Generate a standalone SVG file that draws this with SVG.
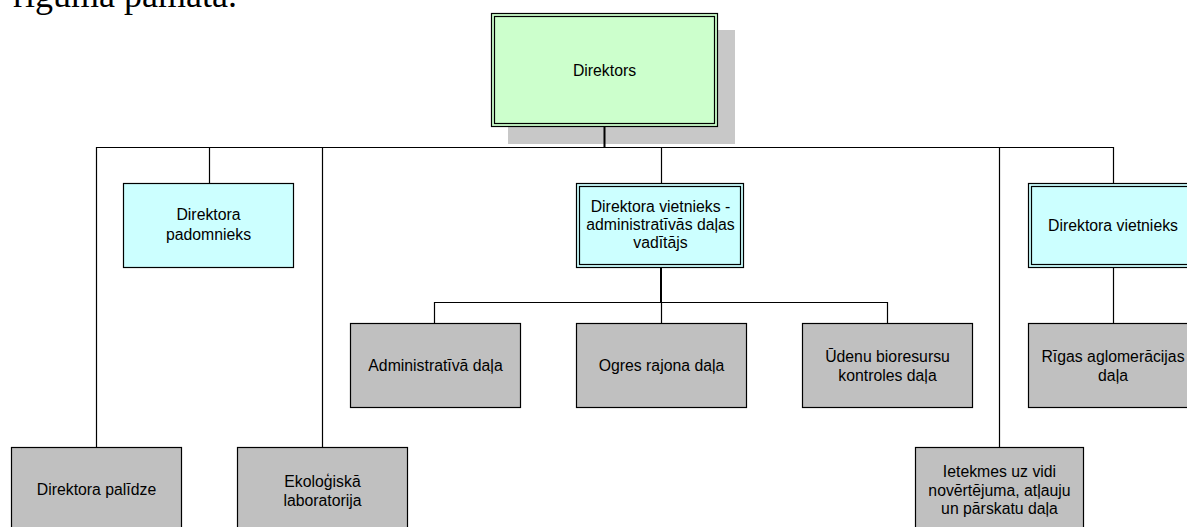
<svg xmlns="http://www.w3.org/2000/svg" width="1187" height="527" viewBox="0 0 1187 527">
<style>
.t{font-family:"Liberation Sans",Arial,sans-serif;font-size:15.8px;fill:#000;text-anchor:middle}
.g{fill:#c0c0c0;stroke:#000;stroke-width:1.2}
.c{fill:#ccffff;stroke:#000;stroke-width:1.2}
.gr{fill:#ccffcc;stroke:#000;stroke-width:1.2}
.in{fill:none;stroke:#000;stroke-width:1.2}
.ln{fill:none;stroke:#000;stroke-width:1.2}
.lt{fill:none;stroke:#000;stroke-width:2}
</style>
<rect width="1187" height="527" fill="#fff"/>
<text x="237" y="7" font-family="'Liberation Serif','Times New Roman',serif" font-size="36" text-anchor="end" fill="#000">rīguma pamata.</text>
<g id="n-direktors">
<rect x="508" y="30" width="227" height="114" fill="#c8c8c8"/>
<rect class="gr" x="491.5" y="13.5" width="226" height="113"/>
<rect class="in" x="494.5" y="16.5" width="220" height="107"/>
<text class="t" x="604.5" y="76">Direktors</text>
</g>
<g id="n-padomnieks">
<rect class="c" x="123.5" y="183.5" width="170" height="84"/>
<text class="t" x="208.5" y="220">Direktora</text>
<text class="t" x="208.5" y="240">padomnieks</text>
</g>
<g id="n-vietnieks-admin">
<rect class="c" x="576.5" y="183.5" width="167" height="84"/>
<rect class="in" x="579.5" y="186.5" width="161" height="78"/>
<text class="t" x="660.5" y="212">Direktora vietnieks -</text>
<text class="t" x="660.5" y="230">administratīvās daļas</text>
<text class="t" x="660.5" y="248">vadītājs</text>
</g>
<g id="n-vietnieks">
<rect class="c" x="1028.5" y="183.5" width="170" height="84"/>
<rect class="in" x="1031.5" y="186.5" width="164" height="78"/>
<text class="t" x="1113" y="231">Direktora vietnieks</text>
</g>
<g id="n-administrativa">
<rect class="g" x="350.5" y="323.5" width="170" height="84"/>
<text class="t" x="435.5" y="371">Administratīvā daļa</text>
</g>
<g id="n-ogres">
<rect class="g" x="576.5" y="323.5" width="170" height="84"/>
<text class="t" x="661.5" y="371">Ogres rajona daļa</text>
</g>
<g id="n-udenu">
<rect class="g" x="802.5" y="323.5" width="170" height="84"/>
<text class="t" x="887.5" y="362">Ūdenu bioresursu</text>
<text class="t" x="887.5" y="381">kontroles daļa</text>
</g>
<g id="n-rigas">
<rect class="g" x="1028.5" y="323.5" width="170" height="84"/>
<text class="t" x="1113" y="362">Rīgas aglomerācijas</text>
<text class="t" x="1113" y="381">daļa</text>
</g>
<g id="n-palidze">
<rect class="g" x="11.5" y="447.5" width="170" height="90"/>
<text class="t" x="96.5" y="495">Direktora palīdze</text>
</g>
<g id="n-ekologiska">
<rect class="g" x="237.5" y="447.5" width="170" height="90"/>
<text class="t" x="322.5" y="487">Ekoloģiskā</text>
<text class="t" x="322.5" y="506">laboratorija</text>
</g>
<g id="n-ietekmes">
<rect class="g" x="915.5" y="447.5" width="168" height="90"/>
<text class="t" x="999.5" y="477">Ietekmes uz vidi</text>
<text class="t" x="999.5" y="495.5">novērtējuma, atļauju</text>
<text class="t" x="999.5" y="514">un pārskatu daļa</text>
</g>
<g id="connectors">
<path class="lt" d="M604.5,127 V147"/>
<path class="ln" d="M96.5,147.5 H1113.5"/>
<path class="ln" d="M96.5,147 V447 M209.5,147 V183 M322.5,147 V447 M661.5,147 V183 M999.5,147 V447 M1113.5,147 V183"/>
<path class="lt" d="M661,268 V302"/>
<path class="ln" d="M434.5,302.5 H887.5 M434.5,302 V323 M661.5,302 V323 M887.5,302 V323"/>
<path class="ln" d="M1113.5,268 V323"/>
</g>
</svg>
